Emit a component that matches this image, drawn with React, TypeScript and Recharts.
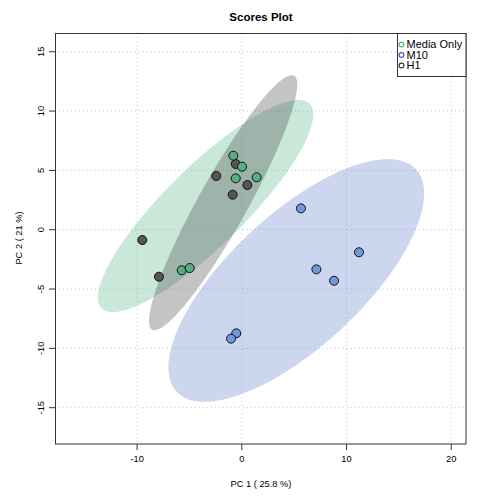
import React from 'react';
import { ScatterChart, Scatter, XAxis, YAxis, CartesianGrid } from 'recharts';

const mediaOnlyX = [-0.81, 0.02, -0.58, 1.42, -5.74, -4.98];
const mediaOnlyY = [6.24, 5.31, 4.33, 4.42, -3.42, -3.23];
const m10X = [5.65, 11.19, 7.12, 8.81, -0.53, -1.03];
const m10Y = [1.8, -1.9, -3.34, -4.3, -8.73, -9.18];
const h1X = [-0.58, -2.44, 0.53, -0.87, -9.5, -7.91];
const h1Y = [5.54, 4.53, 3.77, 2.95, -0.87, -3.96];

const xTicks = [-10, 0, 10, 20];
const yTicks = [-15, -10, -5, 0, 5, 10, 15];
const groupNames = ['Media Only', 'M10', 'H1'];

const FONT = '"Liberation Sans", Arial, sans-serif';

const toPoints = (xs: number[], ys: number[]) => xs.map((x, i) => ({ x, y: ys[i] }));

// 95% confidence ellipse computed from the group's scores
function confEllipse(xs: number[], ys: number[], k = 2.4477, n = 144) {
  const N = xs.length;
  const mx = xs.reduce((a, b) => a + b, 0) / N;
  const my = ys.reduce((a, b) => a + b, 0) / N;
  let sxx = 0, syy = 0, sxy = 0;
  for (let i = 0; i < N; i++) {
    sxx += (xs[i] - mx) ** 2;
    syy += (ys[i] - my) ** 2;
    sxy += (xs[i] - mx) * (ys[i] - my);
  }
  sxx /= N - 1; syy /= N - 1; sxy /= N - 1;
  const tr = (sxx + syy) / 2;
  const d = Math.sqrt(((sxx - syy) / 2) ** 2 + sxy ** 2);
  const l1 = tr + d, l2 = Math.max(tr - d, 0);
  const th = 0.5 * Math.atan2(2 * sxy, sxx - syy);
  const a = k * Math.sqrt(l1), b = k * Math.sqrt(l2);
  const pts = [] as { x: number; y: number }[];
  for (let i = 0; i <= n; i++) {
    const t = (2 * Math.PI * i) / n;
    pts.push({
      x: mx + a * Math.cos(t) * Math.cos(th) - b * Math.sin(t) * Math.sin(th),
      y: my + a * Math.cos(t) * Math.sin(th) + b * Math.sin(t) * Math.cos(th),
    });
  }
  return pts;
}

const ellipseLine = (color: string) => (props: any) => {
  const pts = (props.points || []) as { x: number; y: number }[];
  if (!pts.length) return <g />;
  const d = pts.map((p, i) => `${i === 0 ? 'M' : 'L'}${p.x},${p.y}`).join(' ') + ' Z';
  return <path d={d} fill={color} fillOpacity={0.3} stroke="none" />;
};

const noShape = () => <g />;

const dot = (color: string) => (props: any) => (
  <circle cx={props.cx} cy={props.cy} r={4.5} fill={color} stroke="#111" strokeWidth={1} />
);

const YTick = (props: any) => {
  const { x, y, payload } = props;
  return (
    <text x={x} y={y} transform={`rotate(-90 ${x} ${y})`} textAnchor="middle" fontSize={9.3} fontFamily={FONT} fill="#000">
      {payload.value}
    </text>
  );
};

const XTick = (props: any) => {
  const { x, y, payload } = props;
  return (
    <text x={x} y={y + 10} textAnchor="middle" fontSize={9.3} fontFamily={FONT} fill="#000">
      {payload.value}
    </text>
  );
};

const GREEN = '#4bb284';
const BLUE = '#5576c6';
const GRAY = '#3a3a3a';
const colorsPts = ['#55b07e', '#7497da', '#555555'];

export default function App() {
  const mediaPts = toPoints(mediaOnlyX, mediaOnlyY);
  const m10Pts = toPoints(m10X, m10Y);
  const h1Pts = toPoints(h1X, h1Y);
  const ellM10 = confEllipse(m10X, m10Y);
  const ellH1 = confEllipse(h1X, h1Y);
  const ellMedia = confEllipse(mediaOnlyX, mediaOnlyY);

  return (
    <div style={{ position: 'absolute', left: 0, top: 0, width: 500, height: 500, background: '#fff' }}>
      <ScatterChart width={500} height={500} margin={{ top: 33, right: 34, bottom: 26, left: 15 }}>
        <CartesianGrid stroke="#c8c8c8" strokeDasharray="1 3" horizontalValues={yTicks} verticalValues={xTicks} />
        <XAxis
          type="number"
          dataKey="x"
          domain={[-17.84, 21.41]}
          ticks={xTicks}
          allowDataOverflow
          height={30}
          axisLine={false}
          tickLine={{ stroke: '#333' }}
          tickSize={6}
          tick={<XTick />}
          interval={0}
        />
        <YAxis
          type="number"
          dataKey="y"
          domain={[-18.06, 16.58]}
          ticks={yTicks}
          allowDataOverflow
          width={40}
          axisLine={false}
          tickLine={{ stroke: '#333' }}
          tickSize={6}
          tickMargin={5}
          tick={<YTick />}
          interval={0}
        />
        <Scatter data={ellM10} shape={noShape} line={ellipseLine(BLUE)} isAnimationActive={false} />
        <Scatter data={ellH1} shape={noShape} line={ellipseLine(GREEN)} isAnimationActive={false} />
        <Scatter data={ellMedia} shape={noShape} line={ellipseLine(GRAY)} isAnimationActive={false} />
        <Scatter name={groupNames[2]} data={h1Pts} shape={dot(colorsPts[2])} isAnimationActive={false} />
        <Scatter name={groupNames[1]} data={m10Pts} shape={dot(colorsPts[1])} isAnimationActive={false} />
        <Scatter name={groupNames[0]} data={mediaPts} shape={dot(colorsPts[0])} isAnimationActive={false} />
      </ScatterChart>
      <svg width={500} height={500} style={{ position: 'absolute', left: 0, top: 0, pointerEvents: 'none' }}>
        <rect x={55.5} y={33.5} width={410.5} height={410.5} fill="none" stroke="#333" strokeWidth={1} />
        <text x={261} y={21} textAnchor="middle" fontSize={11.5} fontWeight="bold" fontFamily={FONT} fill="#000">
          Scores Plot
        </text>
        <text x={261} y={487} textAnchor="middle" fontSize={9.3} fontFamily={FONT} fill="#000">
          PC 1 ( 25.8 %)
        </text>
        <text x={21.5} y={238} transform="rotate(-90 21.5 238)" textAnchor="middle" fontSize={9.3} fontFamily={FONT} fill="#000">
          PC 2 ( 21 %)
        </text>
        <rect x={397.5} y={33.5} width={68.5} height={43} fill="#fff" stroke="#333" strokeWidth={1} />
        {groupNames.map((name, i) => (
          <g key={name}>
            <circle cx={401.5} cy={44.5 + i * 10.5} r={2.4} fill="none" stroke={[GREEN, '#3557c8', '#333'][i]} strokeWidth={1.1} />
            <text x={406.5} y={44.5 + i * 10.5 + 3.8} fontSize={11} fontFamily={FONT} fill="#000">
              {name}
            </text>
          </g>
        ))}
      </svg>
    </div>
  );
}
